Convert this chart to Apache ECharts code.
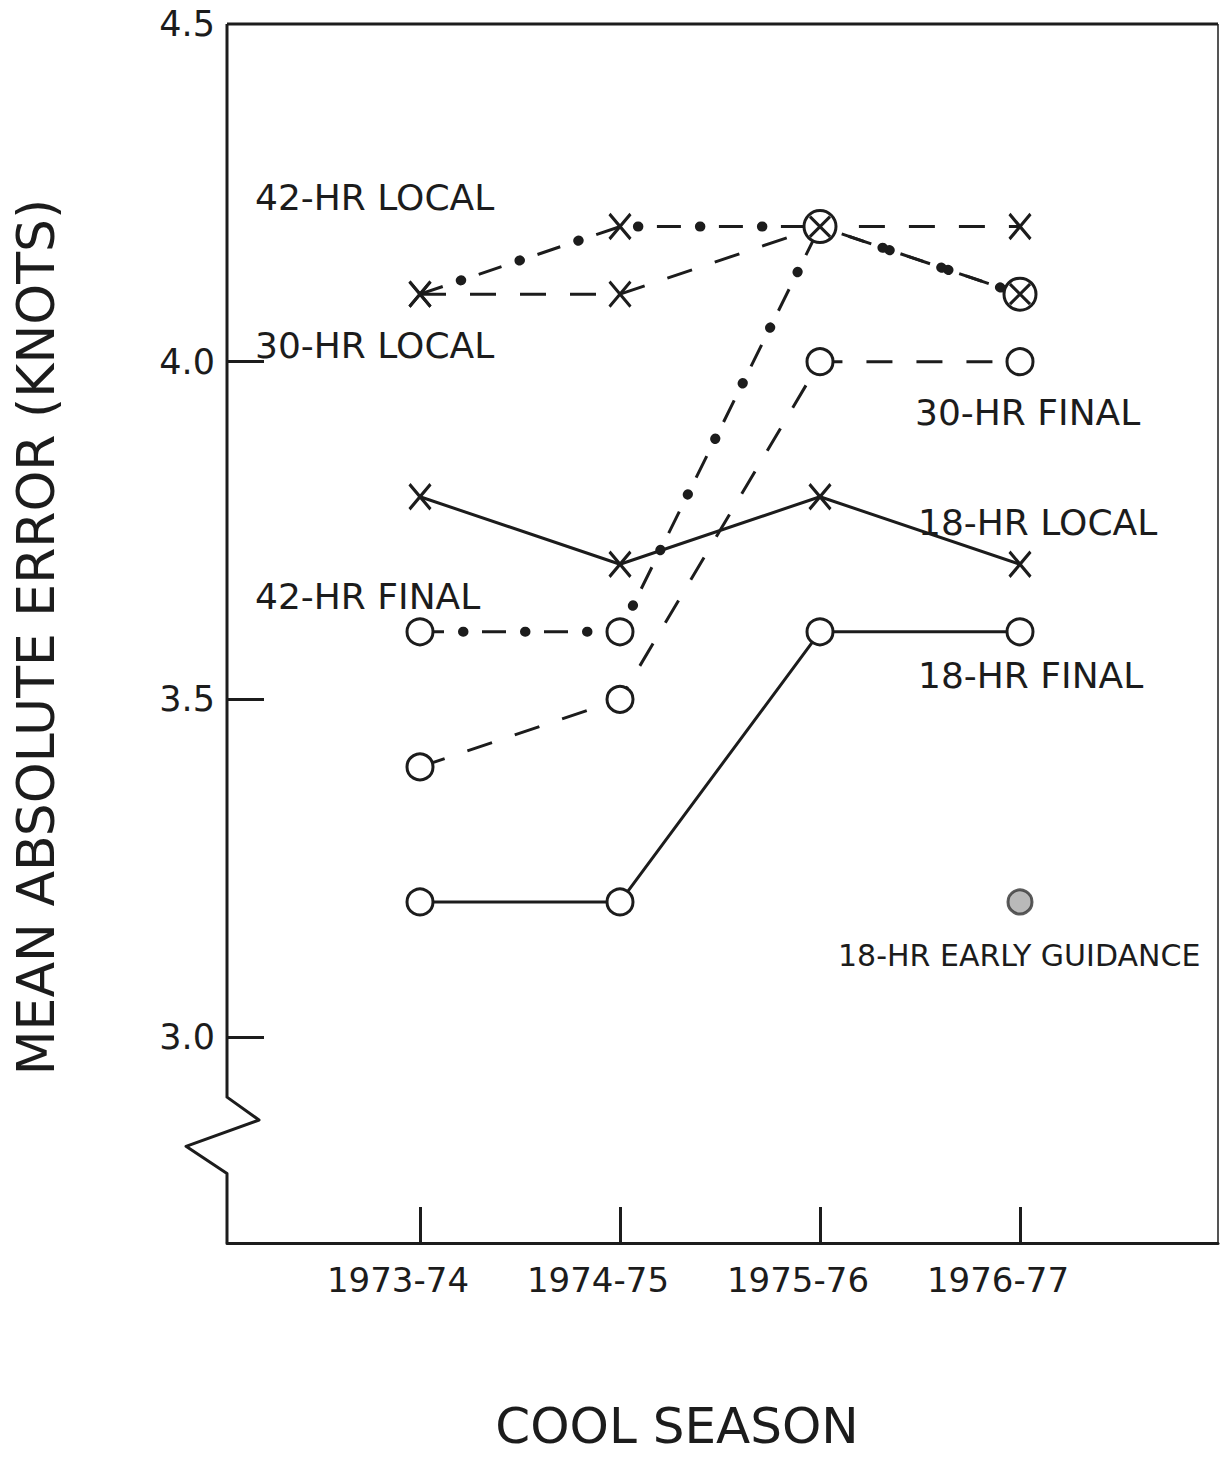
<!DOCTYPE html>
<html>
<head>
<meta charset="utf-8">
<script src="https://cdn.jsdelivr.net/npm/echarts@6/dist/echarts.min.js"></script>
<style>
html,body{margin:0;padding:0;background:#fff;}
#chart{width:1220px;height:1458px;}
</style>
</head>
<body>
<div id="chart"></div>
<script>
// ---- data ----
const seasons = ['1973-74', '1974-75', '1975-76', '1976-77'];
const hr18Final = [3.2, 3.2, 3.6, 3.6];
const hr18Local = [3.8, 3.7, 3.8, 3.7];
const hr30Final = [3.4, 3.5, 4.0, 4.0];
const hr30Local = [4.1, 4.1, 4.2, 4.2];
const hr42Final = [3.6, 3.6, 4.2, 4.1];
const hr42Local = [4.1, 4.2, 4.2, 4.1];
const hr18Early = [null, null, null, 3.2];
const yLabelValues = [3.0, 3.5, 4.0, 4.5];
const yTickValues = [3.0, 3.5, 4.0];
const yBreak = [2.911, 2.798];

// ---- axis ranges ----
const X_MIN = -0.965, X_MAX = 3.99;
const Y_MIN = 2.695, Y_MAX = 4.5;

const INK = '#1c1c1c';
const FONT = '"DejaVu Sans", sans-serif';

const SYM_X = 'path://M0,0L20,24M20,0L0,24';
const SYM_OX = 'path://M0,16A16,16,0,1,1,32,16A16,16,0,1,1,0,16ZM6,6L26,26M26,6L6,26';

function pts(arr) { return arr.map((v, i) => [i, v]); }

const circleStyle = { color: '#fff', borderColor: INK, borderWidth: 3 };
const xStyle = { color: 'rgba(0,0,0,0)', borderColor: INK, borderWidth: 3.2 };

function lineSeries(name, arr, dash, symbol, size, style, z) {
  return {
    name: name, type: 'line', data: pts(arr),
    symbol: symbol, symbolSize: size, showSymbol: true,
    lineStyle: { color: INK, width: 3, type: dash },
    itemStyle: style, z: z || 2, animation: false, silent: true
  };
}

const hr42LocalData = hr42Local.map((v, i) => {
  const same = hr42Final[i] === v;
  return { value: [i, v], symbol: same ? SYM_OX : SYM_X,
    symbolSize: same ? 32 : [21, 25],
    itemStyle: same ? { color: '#fff', borderColor: INK, borderWidth: 3 } : xStyle };
});
const hr42FinalData = hr42Final.map((v, i) => {
  const same = hr42Local[i] === v;
  return { value: [i, v], symbol: same ? 'none' : 'circle', symbolSize: 26, itemStyle: circleStyle };
});

function dotSeries(arr) {
  return {
    type: 'line', data: pts(arr), symbol: 'none', silent: true, animation: false, z: 2,
    lineStyle: { color: INK, width: 10, type: [0.5, 61.5], dashOffset: 19, cap: 'round' }
  };
}

const chart = echarts.init(document.getElementById('chart'), null, { renderer: 'svg' });

const option = {
  backgroundColor: '#fff',
  animation: false,
  grid: { left: 227, right: 2, top: 24, bottom: 215, containLabel: false, outerBoundsMode: 'none' },
  xAxis: {
    type: 'value', min: X_MIN, max: X_MAX,
    splitLine: { show: false },
    axisLine: { show: true, onZero: false, lineStyle: { color: INK, width: 3 } },
    axisTick: { show: true, inside: true, length: 36, customValues: [0, 1, 2, 3], lineStyle: { color: INK, width: 3 } },
    axisLabel: {
      show: true, customValues: [0, 1, 2, 3], margin: 20, padding: [0, 44, 0, 0],
      formatter: v => seasons[Math.round(v)] || '',
      color: INK, fontSize: 34, fontFamily: FONT
    }
  },
  yAxis: {
    type: 'value', min: Y_MIN, max: Y_MAX,
    splitLine: { show: false },
    axisLine: { show: false, onZero: false },
    axisTick: { show: true, inside: true, length: 37, customValues: yTickValues, lineStyle: { color: INK, width: 3 } },
    axisLabel: {
      show: true, customValues: yLabelValues, margin: 12, showMaxLabel: true,
      formatter: v => Number(v).toFixed(1),
      color: INK, fontSize: 35, fontFamily: FONT
    }
  },
  series: [
    {
      type: 'custom', data: [0], clip: false, silent: true, z: 1,
      renderItem: function (params, api) {
        const tl = api.coord([X_MIN, Y_MAX]);
        const tr = api.coord([X_MAX, Y_MAX]);
        const br = api.coord([X_MAX, Y_MIN]);
        const bl = api.coord([X_MIN, Y_MIN]);
        const b0 = api.coord([X_MIN, yBreak[0]]);
        const b1 = api.coord([X_MIN, yBreak[1]]);
        const h = b1[1] - b0[1];
        const z1 = [b0[0] + 32, b0[1] + h * 0.30];
        const z2 = [b0[0] - 41, b0[1] + h * 0.645];
        return {
          type: 'group',
          children: [
            { type: 'polyline', shape: { points: [tl, b0, z1, z2, b1, bl] },
              style: { stroke: INK, lineWidth: 3, fill: null, lineJoin: 'round' } },
            { type: 'line', shape: { x1: tl[0], y1: tl[1], x2: tr[0], y2: tr[1] },
              style: { stroke: INK, lineWidth: 3 } },
            { type: 'line', shape: { x1: tr[0], y1: tr[1], x2: br[0], y2: br[1] },
              style: { stroke: INK, lineWidth: 1.5 } }
          ]
        };
      }
    },
    lineSeries('18-HR FINAL', hr18Final, 'solid', 'circle', 26, circleStyle, 3),
    lineSeries('18-HR LOCAL', hr18Local, 'solid', SYM_X, [21, 25], xStyle, 3),
    lineSeries('30-HR FINAL', hr30Final, [26, 24], 'circle', 26, circleStyle, 3),
    lineSeries('30-HR LOCAL', hr30Local, [26, 24], SYM_X, [21, 25], xStyle, 3),
    dotSeries(hr42Final),
    dotSeries(hr42Local),
    {
      name: '42-HR FINAL', type: 'line', data: hr42FinalData, z: 4, silent: true, animation: false,
      lineStyle: { color: INK, width: 3, type: [24, 38] }
    },
    {
      name: '42-HR LOCAL', type: 'line', data: hr42LocalData, z: 5, silent: true, animation: false,
      lineStyle: { color: INK, width: 3, type: [24, 38] }
    },
    {
      name: '18-HR EARLY GUIDANCE', type: 'scatter', silent: true, animation: false, z: 5,
      data: hr18Early.map((v, i) => v == null ? null : [i, v]).filter(d => d),
      symbol: 'circle', symbolSize: 24,
      itemStyle: { color: '#a8a8a8', borderColor: '#333', borderWidth: 3 }
    }
  ],
  graphic: [
    { type: 'text', x: 36, y: 637, rotation: Math.PI / 2,
      style: { text: 'MEAN ABSOLUTE ERROR (KNOTS)', font: '52px ' + FONT, fill: INK, align: 'center', verticalAlign: 'middle' } },
    { type: 'text', x: 677, y: 1426,
      style: { text: 'COOL SEASON', font: '50px ' + FONT, fill: INK, align: 'center', verticalAlign: 'middle' } },
    { type: 'text', x: 255, y: 197, style: { text: '42-HR LOCAL', font: '36px ' + FONT, fill: INK, align: 'left', verticalAlign: 'middle' } },
    { type: 'text', x: 255, y: 345, style: { text: '30-HR LOCAL', font: '36px ' + FONT, fill: INK, align: 'left', verticalAlign: 'middle' } },
    { type: 'text', x: 915, y: 412, style: { text: '30-HR FINAL', font: '36px ' + FONT, fill: INK, align: 'left', verticalAlign: 'middle' } },
    { type: 'text', x: 918, y: 522, style: { text: '18-HR LOCAL', font: '36px ' + FONT, fill: INK, align: 'left', verticalAlign: 'middle' } },
    { type: 'text', x: 255, y: 596, style: { text: '42-HR FINAL', font: '36px ' + FONT, fill: INK, align: 'left', verticalAlign: 'middle' } },
    { type: 'text', x: 918, y: 675, style: { text: '18-HR FINAL', font: '36px ' + FONT, fill: INK, align: 'left', verticalAlign: 'middle' } },
    { type: 'text', x: 838, y: 955, style: { text: '18-HR EARLY GUIDANCE', font: '30px ' + FONT, fill: INK, align: 'left', verticalAlign: 'middle' } }
  ]
};

chart.setOption(option);
</script>
</body>
</html>
